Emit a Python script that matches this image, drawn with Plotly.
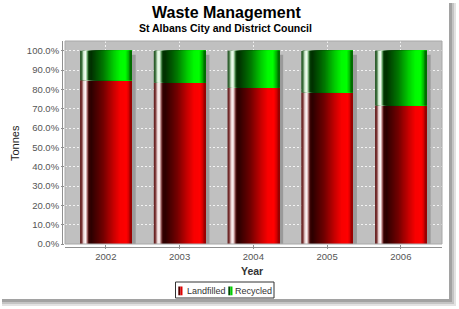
import plotly.graph_objects as go

# ---------------- data ----------------
years = ["2002", "2003", "2004", "2005", "2006"]
landfilled = [0.847, 0.834, 0.808, 0.784, 0.717]
recycled = [0.153, 0.166, 0.192, 0.216, 0.283]
series_names = ["Landfilled", "Recycled"]
y_ticks = [0.0, 0.1, 0.2, 0.3, 0.4, 0.5, 0.6, 0.7, 0.8, 0.9, 1.0]
title_text = "Waste Management"
subtitle_text = "St Albans City and District Council"
x_title = "Year"
y_title = "Tonnes"

# ---------------- geometry / style ----------------
W, H = 459, 309
PL, PR, PT, PB = 65, 442, 41, 244
X_RANGE = [-0.554, 4.558]
Y_RANGE = [0, 1.05]
BAR_W = 0.70
UX = (X_RANGE[1] - X_RANGE[0]) / (PR - PL)   # category units per px
UY = (Y_RANGE[1] - Y_RANGE[0]) / (PB - PT)   # value units per px
FONT = "Liberation Sans, Arial, sans-serif"


def px_x(p):
    return (p - PL) / (PR - PL)


def px_y(p):
    return (PB - p) / (PB - PT)


red_stops = [
    (0.00, (95, 25, 25)), (0.035, (125, 55, 55)), (0.07, (235, 215, 215)),
    (0.11, (255, 248, 248)), (0.14, (170, 110, 110)), (0.17, (55, 0, 0)),
    (0.22, (45, 0, 0)), (0.45, (115, 0, 0)), (0.65, (200, 0, 0)),
    (0.78, (248, 0, 0)), (0.90, (255, 0, 0)), (0.96, (200, 0, 0)),
    (1.00, (140, 0, 0)),
]
green_stops = [
    (0.00, (30, 80, 30)), (0.035, (65, 115, 65)), (0.07, (215, 240, 215)),
    (0.11, (245, 255, 245)), (0.14, (110, 170, 110)), (0.17, (0, 55, 0)),
    (0.22, (0, 50, 0)), (0.45, (0, 120, 0)), (0.65, (0, 205, 0)),
    (0.78, (0, 250, 0)), (0.88, (0, 255, 0)), (0.95, (0, 170, 0)),
    (1.00, (0, 95, 0)),
]


def interp(stops, t):
    for (a, ca), (b, cb) in zip(stops[:-1], stops[1:]):
        if a <= t <= b:
            f = (t - a) / (b - a) if b > a else 0
            c = [round(ca[i] + (cb[i] - ca[i]) * f) for i in range(3)]
            return "rgb(%d,%d,%d)" % tuple(c)
    return "rgb(%d,%d,%d)" % stops[-1][1]


fig = go.Figure()

# drop shadow of each stacked bar (4px right / 4px down)
totals = [l + r for l, r in zip(landfilled, recycled)]
fig.add_trace(go.Bar(
    x=years, y=[t - 4 * UY for t in totals], width=BAR_W,
    offset=-BAR_W / 2 + 4 * UX, marker=dict(color="#9a9a9a", line=dict(width=0)),
    hoverinfo="skip", showlegend=False))

K = 52
for name, vals, base, stops in [
    (series_names[0], landfilled, None, red_stops),
    (series_names[1], recycled, landfilled, green_stops),
]:
    for k in range(K):
        f0 = k / K
        fig.add_trace(go.Bar(
            x=years, y=vals, base=base, name=name,
            width=BAR_W * (1 - f0), offset=-BAR_W / 2 + BAR_W * f0,
            marker=dict(color=interp(stops, (k + 0.5) / K), line=dict(width=0)),
            hoverinfo="skip" if k else "x+y+name", showlegend=False))

shapes = []
# plot border
shapes.append(dict(type="rect", xref="paper", yref="paper", x0=0, x1=1, y0=0, y1=1,
                   line=dict(color="#a8a8a8", width=1), layer="above"))
# axis lines (offset from plot area, JFreeChart style)
shapes.append(dict(type="line", xref="paper", yref="paper", x0=px_x(62.5), x1=px_x(62.5),
                   y0=0, y1=1, line=dict(color="#909090", width=1)))
shapes.append(dict(type="line", xref="paper", yref="paper", x0=0, x1=1,
                   y0=px_y(247.5), y1=px_y(247.5), line=dict(color="#909090", width=1)))
# legend box and swatches
shapes.append(dict(type="rect", xref="paper", yref="paper", x0=px_x(175.5), x1=px_x(274),
                   y0=px_y(298), y1=px_y(282), line=dict(color="#333", width=1), fillcolor="white"))
for x0, cols in [(178.3, ("#5a0000", "#e00000")), (228.3, ("#005000", "#00d000"))]:
    shapes.append(dict(type="rect", xref="paper", yref="paper", x0=px_x(x0), x1=px_x(x0 + 2.1),
                       y0=px_y(295.3), y1=px_y(286.5), line=dict(width=0), fillcolor=cols[0]))
    shapes.append(dict(type="rect", xref="paper", yref="paper", x0=px_x(x0 + 2.1), x1=px_x(x0 + 4.2),
                       y0=px_y(295.3), y1=px_y(286.5), line=dict(width=0), fillcolor=cols[1]))
# chart frame drop shadow
for (w, col) in [(7, "#e2e2e2"), (5, "#c4c4c4"), (3, "#a2a2a2")]:
    shapes.append(dict(type="rect", xref="paper", yref="paper", x0=px_x(449), x1=px_x(449 + w),
                       y0=px_y(299 + w), y1=px_y(3), line=dict(width=0), fillcolor=col, layer="below"))
    shapes.append(dict(type="rect", xref="paper", yref="paper", x0=px_x(2), x1=px_x(449 + w),
                       y0=px_y(299 + w), y1=px_y(299), line=dict(width=0), fillcolor=col, layer="below"))

annotations = [
    dict(text="<b>%s</b>" % title_text, x=px_x(226), y=px_y(12.5), xref="paper", yref="paper",
         showarrow=False, xanchor="center", yanchor="middle",
         font=dict(family=FONT, size=16, color="black")),
    dict(text="<b>%s</b>" % subtitle_text, x=px_x(225), y=px_y(28), xref="paper", yref="paper",
         showarrow=False, xanchor="center", yanchor="middle",
         font=dict(family=FONT, size=10.5, color="black")),
    dict(text=y_title, x=px_x(15), y=px_y(143), xref="paper", yref="paper", textangle=-90,
         showarrow=False, xanchor="center", yanchor="middle",
         font=dict(family=FONT, size=11, color="#222")),
    dict(text="<b>%s</b>" % x_title, x=px_x(252), y=px_y(271), xref="paper", yref="paper",
         showarrow=False, xanchor="center", yanchor="middle",
         font=dict(family=FONT, size=10.5, color="#333")),
    dict(text=series_names[0], x=px_x(184.5), y=px_y(290.5), xref="paper", yref="paper",
         showarrow=False, xanchor="left", yanchor="middle",
         font=dict(family=FONT, size=9, color="#333")),
    dict(text=series_names[1], x=px_x(233), y=px_y(290.5), xref="paper", yref="paper",
         showarrow=False, xanchor="left", yanchor="middle",
         font=dict(family=FONT, size=9, color="#333")),
]

GRID = "rgba(255,255,255,0.8)"
fig.update_layout(
    width=W, height=H,
    margin=dict(l=PL, r=W - PR, t=PT, b=H - PB, pad=0),
    paper_bgcolor="white", plot_bgcolor="#c0c0c0",
    barmode="overlay", showlegend=False,
    font=dict(family=FONT, color="#444"),
    shapes=shapes, annotations=annotations,
    xaxis=dict(type="category", range=X_RANGE, showgrid=True, gridcolor=GRID,
               griddash="2px,2px", gridwidth=1, ticks="outside", ticklen=4, tickcolor="#909090",
               tickfont=dict(family=FONT, size=9.5, color="#555"), showline=False, zeroline=False,
               fixedrange=True),
    yaxis=dict(range=Y_RANGE, tickvals=y_ticks, tickformat=".1%", showgrid=True,
               gridcolor=GRID, griddash="2px,2px", gridwidth=1, ticks="outside", ticklen=3,
               tickcolor="#909090", tickfont=dict(family=FONT, size=9.5, color="#555"),
               showline=False, zeroline=False, fixedrange=True),
)

fig.write_html("out.html", config={"displayModeBar": False})
